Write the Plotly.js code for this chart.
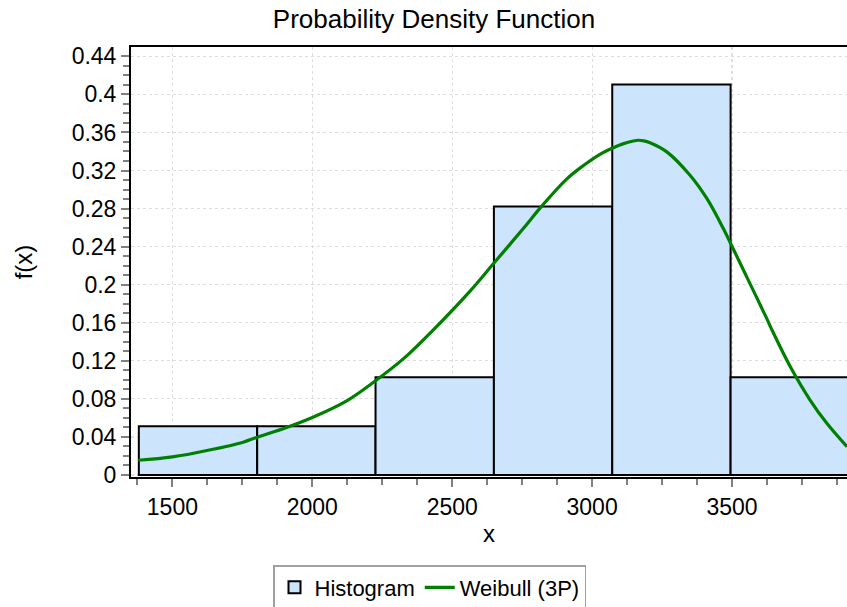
<!DOCTYPE html>
<html>
<head>
<meta charset="utf-8">
<script src="https://cdn.plot.ly/plotly-3.0.1.min.js"></script>
<style>
  html, body { margin: 0; padding: 0; background: #ffffff; }
  #chart { width: 847px; height: 607px; }
</style>
</head>
<body>
<div id="chart"></div>
<script>
// Histogram bins (edges) and bar heights
const binEdges = [1380, 1803, 2226, 2649, 3072, 3495, 3918];
const binHeights = [0.0513, 0.0513, 0.1026, 0.2821, 0.4103, 0.1026];

// Weibull (3P) fitted density
const weibullX = [1378, 1500, 1628, 1753, 1801, 1908, 2000, 2123, 2221, 2325, 2444, 2563, 2647, 2754, 2820, 2909, 2968, 3028, 3076, 3110, 3147, 3165, 3185, 3207, 3267, 3350, 3410, 3469, 3499, 3553, 3624, 3642, 3708, 3779, 3839, 3911];
const weibullY = [0.0155, 0.0190, 0.0260, 0.0345, 0.0395, 0.0500, 0.0605, 0.0780, 0.0980, 0.1220, 0.1560, 0.1930, 0.2220, 0.2590, 0.2826, 0.3110, 0.3250, 0.3370, 0.3440, 0.3480, 0.3510, 0.3518, 0.3512, 0.3492, 0.3396, 0.3150, 0.2906, 0.2590, 0.2410, 0.2080, 0.1646, 0.1530, 0.1140, 0.0788, 0.0543, 0.0297];

const binCenters = binHeights.map((_, i) => (binEdges[i] + binEdges[i + 1]) / 2);
const binWidths = binHeights.map((_, i) => binEdges[i + 1] - binEdges[i]);

const FONT = 'Liberation Sans, Arial, sans-serif';

const traces = [
  {
    type: 'bar',
    name: 'Histogram',
    x: binCenters,
    y: binHeights,
    width: binWidths,
    marker: { color: 'rgb(204,228,252)', line: { color: '#000000', width: 2 } }
  },
  {
    type: 'scatter',
    mode: 'lines',
    name: 'Weibull (3P)',
    x: weibullX,
    y: weibullY,
    line: { color: 'rgb(0,128,0)', width: 3.2, shape: 'spline', smoothing: 1 }
  }
];

const axisCommon = {
  showline: true,
  linecolor: '#000000',
  linewidth: 2,
  mirror: true,
  ticks: 'outside',
  tickcolor: '#808080',
  tickwidth: 2,
  ticklen: 8,
  showgrid: true,
  gridcolor: '#dedede',
  gridwidth: 1.2,
  griddash: 'dot',
  zeroline: false,
  automargin: false,
  tickfont: { family: FONT, size: 23, color: '#000000' }
};

const layout = {
  width: 847,
  height: 607,
  paper_bgcolor: '#ffffff',
  plot_bgcolor: '#ffffff',
  font: { family: FONT, color: '#000000' },
  margin: { l: 131, r: 0, t: 47, b: 130, pad: 0, autoexpand: false },
  barmode: 'overlay',
  bargap: 0,
  title: {
    text: 'Probability Density Function',
    font: { family: FONT, size: 26, color: '#000000' },
    x: 434 / 847,
    xref: 'container',
    xanchor: 'center',
    y: 1 - 18.5 / 607,
    yref: 'container',
    yanchor: 'middle'
  },
  xaxis: Object.assign({}, axisCommon, {
    range: [1352, 3911],
    tick0: 1500,
    dtick: 500,
    minor: { dtick: 125, ticks: 'outside', ticklen: 6, tickwidth: 2, tickcolor: '#808080', showgrid: false },
    title: { text: 'x', font: { family: FONT, size: 24, color: '#000000' }, standoff: 7 }
  }),
  yaxis: Object.assign({}, axisCommon, {
    range: [-0.0021, 0.4498],
    tick0: 0,
    dtick: 0.04,
    minor: { dtick: 0.01, ticks: 'outside', ticklen: 6, tickwidth: 2, tickcolor: '#808080', showgrid: false },
    title: { text: 'f(x)', font: { family: FONT, size: 24, color: '#000000' }, standoff: 32 }
  }),
  showlegend: true,
  legend: {
    orientation: 'h',
    xref: 'container',
    x: 429.5 / 847,
    xanchor: 'center',
    yref: 'container',
    y: 1 - 565 / 607,
    yanchor: 'top',
    bgcolor: '#ffffff',
    bordercolor: '#a0a0a0',
    borderwidth: 1.5,
    font: { family: FONT, size: 22, color: '#000000' },
    traceorder: 'normal'
  }
};

Plotly.newPlot('chart', traces, layout, { displayModeBar: false, responsive: false, staticPlot: true });
</script>
</body>
</html>
